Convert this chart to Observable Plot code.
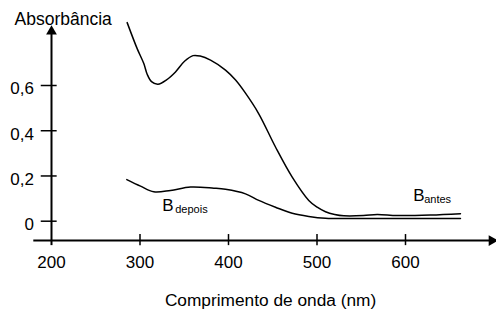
<!DOCTYPE html>
<html>
<head>
<meta charset="utf-8">
<script src="https://cdn.jsdelivr.net/npm/d3@7"></script>
<script src="https://cdn.jsdelivr.net/npm/@observablehq/plot@0.6"></script>
<style>
  html, body { margin: 0; padding: 0; background: #fff; }
  svg { display: block; }
</style>
</head>
<body>
<div id="chart"></div>
<script>
// Wavelength (nm) samples and absorbance values
const antesNm = [285.5, 296.8, 304.3, 308.1, 313, 320.3, 330, 340.1, 350.3, 359.9, 368, 379.7, 396.6, 408, 419.2, 434.2, 453.1, 472.0, 490.7, 500.2, 509.6, 520, 530.3, 552.5, 568.0, 590.6, 628.2, 662.1];
const antesA  = [0.878, 0.763, 0.697, 0.650, 0.617, 0.606, 0.625, 0.660, 0.707, 0.732, 0.730, 0.712, 0.668, 0.624, 0.566, 0.475, 0.328, 0.195, 0.092, 0.062, 0.042, 0.030, 0.024, 0.025, 0.030, 0.025, 0.027, 0.033];
const depoisNm = [285.1, 300.6, 315.6, 334.5, 357.1, 383.4, 396.6, 419.2, 434.2, 453.1, 472.0, 490.7, 509.6, 552.5, 662.1];
const depoisA  = [0.184, 0.155, 0.130, 0.136, 0.151, 0.146, 0.141, 0.121, 0.092, 0.062, 0.035, 0.021, 0.013, 0.012, 0.012];

const xTicks = [300, 400, 500, 600];
const xTickLabels = ["200", "300", "400", "500", "600"];
const xLabelValues = [200, 300, 400, 500, 600];
const yTicks = [0, 0.2, 0.4, 0.6];
const yTickLabels = ["0", "0,2", "0,4", "0,6"];

const yTitle = "Absorbância";
const xTitle = "Comprimento de onda (nm)";

const antes = antesNm.map((x, i) => ({x, y: antesA[i]}));
const depois = depoisNm.map((x, i) => ({x, y: depoisA[i]}));
const yLab = yTicks.map((v, i) => ({v, t: yTickLabels[i]}));
const xLab = xLabelValues.map((v, i) => ({v, t: xTickLabels[i]}));

const font = "'Liberation Sans', Arial, sans-serif";
const axisY = -0.0854; // where the x-axis line crosses
const chart = Plot.plot({
  width: 496,
  height: 311,
  margin: 0,
  style: {fontFamily: font, fontSize: "17px", background: "#fff", color: "#000"},
  x: {domain: [200, 700], range: [51, 493.5], axis: null},
  y: {domain: [0, 0.6], range: [220.7, 85], axis: null},
  marks: [
    // axes lines
    Plot.ruleX([200], {y1: -0.108, y2: 0.84, stroke: "#000", strokeWidth: 2}),
    Plot.ruleY([axisY], {x1: 180, x2: 697, stroke: "#000", strokeWidth: 2}),
    // arrows
    Plot.dot([{x: 200, y: 0.839}], {x: "x", y: "y", symbol: "triangle", r: 4, fill: "#000", stroke: null}),
    Plot.dot([{x: 697.5, y: axisY}], {x: "x", y: "y", symbol: "triangle", r: 4, fill: "#000", stroke: null, rotate: 90}),
    // ticks
    Plot.ruleY(yTicks, {x1: 188.4, x2: 206.4, stroke: "#000", strokeWidth: 1.5}),
    Plot.ruleX(xTicks, {y1: -0.059, y2: -0.108, stroke: "#000", strokeWidth: 1.5}),
    // tick labels
    Plot.text(yLab, {x: 200, y: "v", text: "t", textAnchor: "end", dx: -17.5, dy: 3.5, fontSize: 17, fill: "#000"}),
    Plot.text(xLab, {x: "v", y: -0.205, text: "t", lineAnchor: "bottom", fontSize: 17, fill: "#000"}),
    // titles
    Plot.text([yTitle], {x: 200, y: 0.866, text: d => d, textAnchor: "start", lineAnchor: "bottom", dx: -37, fontSize: 17.5, fill: "#000"}),
    Plot.text([xTitle], {x: 447.5, y: -0.373, text: d => d, lineAnchor: "bottom", fontSize: 17.3, fill: "#000"}),
    // curves
    Plot.line(antes, {x: "x", y: "y", curve: "catmull-rom", stroke: "#000", strokeWidth: 1.5}),
    Plot.line(depois, {x: "x", y: "y", curve: "catmull-rom", stroke: "#000", strokeWidth: 1.5}),
    // curve labels
    Plot.text(["B"], {x: 325.1, y: 0.047, text: d => d, textAnchor: "start", lineAnchor: "bottom", fontSize: 17, fill: "#000"}),
    Plot.text(["depois"], {x: 325.1, y: 0.047, text: d => d, textAnchor: "start", lineAnchor: "bottom", dx: 13, dy: 2, fontSize: 11, fill: "#000"}),
    Plot.text(["B"], {x: 608.7, y: 0.0885, text: d => d, textAnchor: "start", lineAnchor: "bottom", fontSize: 17, fill: "#000"}),
    Plot.text(["antes"], {x: 608.7, y: 0.0885, text: d => d, textAnchor: "start", lineAnchor: "bottom", dx: 11, dy: 1.5, fontSize: 11, fill: "#000"})
  ]
});
document.getElementById("chart").appendChild(chart);
</script>
</body>
</html>
